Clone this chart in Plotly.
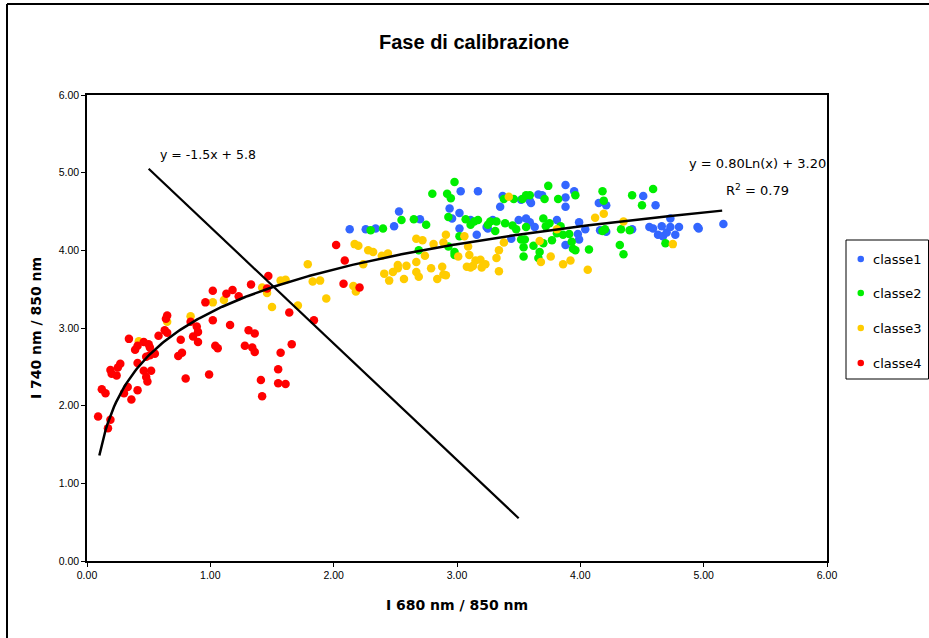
import numpy as np
import plotly.graph_objects as go

# ---------------- data ----------------
classe1_x = [2.13, 2.26, 2.34, 2.49, 2.53, 2.70, 3.03, 3.17, 2.94, 2.96, 3.02, 3.02, 3.16, 3.11, 3.25, 3.29,
             3.35, 3.37, 3.52, 3.59, 3.60, 3.66, 3.69, 3.88, 3.88, 3.88, 3.95, 4.15, 4.21, 4.51, 4.61, 3.50,
             3.56, 3.59, 3.81, 3.63, 3.99, 4.04, 3.98, 3.99, 3.88, 3.44, 3.24, 4.16, 4.21, 4.42, 4.56, 4.59,
             4.66, 4.63, 4.67, 4.70, 4.73, 4.80, 4.95, 4.96, 4.73, 4.77, 5.16]
classe1_y = [4.27, 4.27, 4.28, 4.31, 4.50, 4.40, 4.76, 4.76, 4.54, 4.41, 4.48, 4.28, 4.20, 4.39, 4.28, 4.39,
             4.56, 4.70, 4.65, 4.64, 4.61, 4.72, 4.71, 4.84, 4.68, 4.56, 4.76, 4.61, 4.58, 4.70, 4.58, 4.39,
             4.41, 4.36, 4.39, 4.30, 4.36, 4.27, 4.21, 4.14, 4.07, 4.15, 4.30, 4.26, 4.24, 4.27, 4.30, 4.28,
             4.31, 4.20, 4.18, 4.23, 4.30, 4.30, 4.30, 4.28, 4.41, 4.20, 4.34]

classe2_x = [2.30, 2.40, 2.55, 2.65, 2.75, 2.69, 2.80, 2.92, 2.95, 2.98, 2.93, 2.93, 2.98, 2.98, 3.02, 3.07,
             3.11, 3.14, 3.17, 3.25, 3.27, 3.32, 3.31, 3.74, 3.38, 3.46, 3.53, 3.56, 3.59, 3.71, 3.82, 3.96,
             4.18, 4.19, 4.42, 4.50, 4.59, 3.39, 3.45, 3.48, 3.56, 3.70, 3.72, 3.75, 3.84, 3.81, 3.77, 3.86,
             3.91, 3.93, 3.96, 3.94, 3.52, 3.55, 3.54, 3.54, 3.62, 3.67, 3.66, 3.70, 4.07, 4.18, 4.20, 4.32,
             4.35, 4.33, 4.40, 4.69]
classe2_y = [4.26, 4.28, 4.39, 4.40, 4.33, 4.00, 4.73, 4.73, 4.67, 4.88, 4.43, 4.05, 3.98, 3.94, 4.18, 4.40,
             4.33, 4.37, 4.39, 4.33, 4.37, 4.37, 4.25, 4.83, 4.66, 4.66, 4.66, 4.71, 4.71, 4.66, 4.66, 4.71,
             4.76, 4.64, 4.71, 4.58, 4.79, 4.35, 4.32, 4.27, 4.30, 4.41, 4.31, 4.35, 4.31, 4.22, 4.13, 4.20,
             4.21, 4.11, 4.00, 4.02, 4.14, 4.14, 4.04, 3.92, 4.06, 3.98, 3.90, 4.09, 4.01, 4.25, 4.27, 4.07,
             3.95, 4.27, 4.26, 4.09]

classe3_x = [0.42, 0.65, 0.84, 1.02, 1.11, 1.42, 1.46, 1.50, 1.57, 1.61, 1.71, 1.79, 1.83, 1.89, 1.94, 2.17,
             2.20, 2.28, 2.32, 2.24, 2.16, 2.18, 2.39, 2.44, 2.41, 2.45, 2.48, 2.52, 2.52, 2.57, 2.59, 2.67,
             2.67, 2.69, 2.67, 2.72, 2.74, 2.79, 2.81, 2.84, 2.88, 2.89, 2.91, 2.89, 2.91, 3.01, 3.06, 3.09,
             3.10, 3.08, 3.11, 3.13, 3.15, 3.19, 3.20, 3.23, 3.32, 3.34, 3.34, 3.42, 3.38, 3.67, 3.68, 3.76,
             3.81, 3.86, 3.92, 4.06, 4.12, 4.19, 4.35, 4.75]
classe3_y = [2.83, 3.08, 3.15, 3.33, 3.36, 3.52, 3.45, 3.27, 3.61, 3.62, 3.29, 3.82, 3.60, 3.61, 3.38, 4.08,
             4.06, 4.00, 3.98, 3.82, 3.54, 3.47, 3.93, 3.96, 3.70, 3.61, 3.72, 3.81, 3.77, 3.63, 3.80, 3.85,
             3.72, 3.66, 4.15, 4.13, 3.93, 3.77, 4.08, 3.63, 3.79, 3.69, 3.68, 4.10, 4.20, 3.92, 4.18, 4.05,
             3.94, 3.79, 3.78, 3.80, 3.87, 3.88, 3.78, 3.82, 3.90, 3.73, 4.00, 4.69, 4.10, 4.12, 3.85, 3.92,
             4.27, 3.82, 3.87, 3.75, 4.42, 4.47, 4.37, 4.08]

classe4_x = [0.09, 0.17, 0.19, 0.12, 0.15, 0.19, 0.20, 0.24, 0.27, 0.25, 0.33, 0.30, 0.36, 0.41, 0.34, 0.39,
             0.41, 0.46, 0.50, 0.51, 0.41, 0.48, 0.51, 0.55, 0.46, 0.52, 0.48, 0.49, 0.58, 0.64, 0.63, 0.65,
             0.76, 0.74, 0.77, 0.80, 0.84, 0.89, 0.90, 0.86, 0.90, 0.96, 1.02, 1.02, 1.04, 1.06, 0.99, 1.13,
             1.18, 1.23, 1.16, 1.33, 1.31, 1.36, 1.28, 1.34, 1.36, 1.41, 1.42, 1.47, 1.46, 1.64, 1.66, 1.57,
             1.55, 1.55, 1.61, 1.84, 2.02, 2.09, 2.08, 2.21, 0.65]
classe4_y = [1.86, 1.71, 1.82, 2.21, 2.16, 2.46, 2.41, 2.39, 2.54, 2.49, 2.24, 2.16, 2.08, 2.20, 2.86, 2.72,
             2.77, 2.82, 2.79, 2.75, 2.55, 2.63, 2.65, 2.67, 2.45, 2.45, 2.37, 2.31, 2.90, 3.12, 2.97, 2.94,
             2.85, 2.64, 2.68, 2.35, 3.08, 3.02, 2.95, 2.89, 2.82, 3.33, 3.48, 3.10, 2.77, 2.74, 2.40, 3.44,
             3.49, 3.41, 3.04, 3.56, 2.97, 2.93, 2.77, 2.75, 2.69, 2.33, 2.12, 3.67, 3.51, 3.20, 2.79, 2.68,
             2.47, 2.29, 2.28, 3.10, 4.07, 3.87, 3.57, 3.52, 3.16]

series_names = ["classe1", "classe2", "classe3", "classe4"]
series_colors = ["#3366FF", "#00EE00", "#FFCC00", "#FF0000"]

# trendline: y = 0.80 ln(x) + 3.20, fitted over x in [0.1, 5.15]
log_a, log_b = 0.80, 3.20
log_xrange = [0.1, 5.15]
# separation line: y = -1.5 x + 5.8 over x in [0.5, 3.5]
lin_m, lin_q = -1.5, 5.8
lin_xrange = [0.5, 3.5]

axis_ticks = [0, 1, 2, 3, 4, 5, 6]
tick_labels = ["0.00", "1.00", "2.00", "3.00", "4.00", "5.00", "6.00"]

# ---------------- layout helpers (pixel -> paper) ----------------
PL, PR, PT, PB = 87, 827, 95, 561
def px_x(p):
    return (p - PL) / (PR - PL)
def px_y(p):
    return (PB - p) / (PB - PT)

# ---------------- figure ----------------
fig = go.Figure()
xs = [classe1_x, classe2_x, classe3_x, classe4_x]
ys = [classe1_y, classe2_y, classe3_y, classe4_y]
for i, (name, col) in enumerate(zip(series_names, series_colors)):
    fig.add_trace(go.Scatter(
        x=xs[i], y=ys[i], mode="markers", name=name,
        marker=dict(color=col, size=8.5, line=dict(width=0)),
        showlegend=False,
    ))

cx = np.linspace(log_xrange[0], log_xrange[1], 300)
fig.add_trace(go.Scatter(x=cx, y=log_a * np.log(cx) + log_b, mode="lines",
                         line=dict(color="black", width=2.5), showlegend=False, hoverinfo="skip"))
lx = np.array(lin_xrange)
fig.add_trace(go.Scatter(x=lx, y=lin_m * lx + lin_q, mode="lines",
                         line=dict(color="black", width=2.2), showlegend=False, hoverinfo="skip"))

ann_font = dict(family="DejaVu Sans, Lato, sans-serif", size=13, color="black")
fig.add_annotation(x=0.98, y=5.23, text="y = -1.5x + 5.8", showarrow=False,
                   font=dict(family="DejaVu Sans, Lato, sans-serif", size=12.5, color="black"))
fig.add_annotation(x=5.44, y=5.12, text="y = 0.80Ln(x) + 3.20", showarrow=False, font=ann_font)
fig.add_annotation(x=5.44, y=4.78, text="R<sup>2</sup> = 0.79", showarrow=False, font=ann_font)

# title
fig.add_annotation(xref="paper", yref="paper", x=px_x(474), y=px_y(42),
                   xanchor="center", yanchor="middle",
                   text="<b>Fase di calibrazione</b>", showarrow=False,
                   font=dict(family="Liberation Sans, Arial, sans-serif", size=20, color="black"))

# legend (manual box, glyphs and labels)
fig.add_shape(type="rect", xref="paper", yref="paper",
              x0=px_x(846), x1=px_x(928.5), y0=px_y(379), y1=px_y(240),
              line=dict(color="black", width=1), fillcolor="white", layer="above")
legend_rows = [259, 293, 328, 363]
for name, col, ry in zip(series_names, series_colors, legend_rows):
    fig.add_shape(type="circle", xref="paper", yref="paper",
                  x0=px_x(857.5), x1=px_x(864), y0=px_y(ry + 3.25), y1=px_y(ry - 3.25),
                  line=dict(width=0), fillcolor=col, layer="above")
    fig.add_annotation(xref="paper", yref="paper", x=px_x(871), y=px_y(ry),
                       xanchor="left", yanchor="middle", text=name, showarrow=False,
                       font=dict(family="DejaVu Sans, Lato, sans-serif", size=13, color="black"))

# outer chart border (left and top edges visible)
fig.add_shape(type="line", xref="paper", yref="paper",
              x0=px_x(7), x1=px_x(7), y0=px_y(660), y1=px_y(4),
              line=dict(color="black", width=2))
fig.add_shape(type="line", xref="paper", yref="paper",
              x0=px_x(7), x1=px_x(940), y0=px_y(4), y1=px_y(4),
              line=dict(color="black", width=2))

tick_font = dict(family="Liberation Sans Narrow, Arial Narrow, Liberation Sans, sans-serif", size=10.5, color="black")
title_font = dict(family="DejaVu Sans, sans-serif", size=14, color="black")

fig.update_xaxes(range=[0, 6], tickvals=axis_ticks, ticktext=tick_labels,
                 showgrid=False, zeroline=False, showline=True, linecolor="black", linewidth=1.5,
                 mirror=True, ticks="outside", ticklen=4, tickcolor="black",
                 tickfont=tick_font,
                 title=dict(text="<b>I 680 nm / 850 nm</b>", font=title_font, standoff=20))
fig.update_yaxes(range=[0, 6], tickvals=axis_ticks, ticktext=tick_labels,
                 showgrid=False, zeroline=False, showline=True, linecolor="black", linewidth=1.5,
                 mirror=True, ticks="outside", ticklen=4, tickcolor="black",
                 tickfont=tick_font,
                 title=dict(text="<b>I 740 nm / 850 nm</b>", font=title_font, standoff=14))

fig.update_layout(
    width=929, height=638, autosize=False,
    margin=dict(l=PL, r=929 - PR, t=PT, b=638 - PB),
    paper_bgcolor="white", plot_bgcolor="white",
    showlegend=False,
)

fig.write_html("out.html", config={"displayModeBar": False},
               post_script="document.body.style.margin='0px';document.body.style.overflow='hidden';")
